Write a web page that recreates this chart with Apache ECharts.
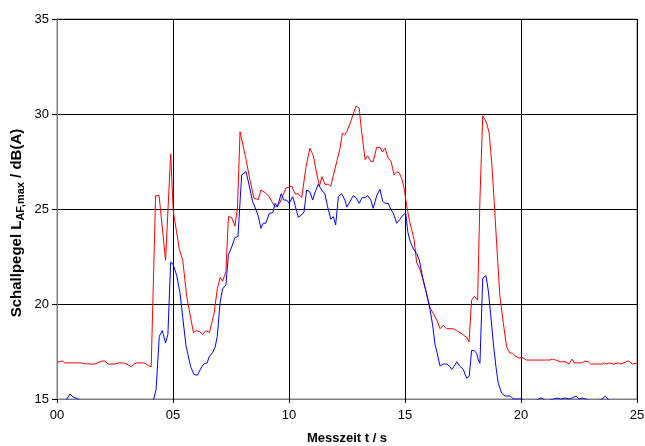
<!DOCTYPE html>
<html>
<head>
<meta charset="utf-8">
<script src="https://cdn.jsdelivr.net/npm/echarts@6/dist/echarts.min.js"></script>
<style>
	html, body { margin: 0; padding: 0; background: #fff; }
	#chart { width: 645px; height: 446px; }
</style>
</head>
<body>
<div id="chart"></div>
<script>
// Messzeit t / s und Pegel (rot)
var redTime = [0.0, 0.1, 0.23, 0.34, 0.6, 0.9, 1.06, 1.18, 1.3, 1.38, 1.5, 1.62, 1.75, 1.93, 2.05, 2.21, 2.5, 2.64, 2.9, 3.07, 3.19, 3.33, 3.43, 3.68, 3.8, 3.94, 4.06,
	4.25, 4.4, 4.68, 4.9, 5.01, 5.27, 5.42, 5.59, 5.88, 6.0, 6.14, 6.28, 6.42, 6.57, 6.77, 6.91, 7.03, 7.14, 7.28, 7.39, 7.53, 7.67, 7.78, 7.89,
	8.15, 8.32, 8.49, 8.68, 8.79, 8.97, 9.15, 9.3, 9.4, 9.6, 9.68, 9.87, 10.12, 10.26, 10.4, 10.55, 10.73, 10.9, 11.05, 11.19, 11.31, 11.42, 11.55, 11.7, 11.8,
	12.06, 12.2, 12.3, 12.4, 12.5, 12.63, 12.89, 13.03, 13.09, 13.18, 13.28, 13.39, 13.53, 13.63, 13.78, 13.92, 14.02, 14.14, 14.28, 14.4, 14.53, 14.64, 14.75, 14.86, 14.96,
	15.07, 15.19, 15.29, 15.39, 15.5, 15.65, 15.79, 15.94, 16.08, 16.22, 16.37, 16.51, 16.65, 16.8, 16.94, 17.08, 17.23, 17.37, 17.51, 17.66, 17.76, 17.87, 17.99,
	18.06, 18.13, 18.23, 18.35, 18.45, 18.52, 18.63, 18.74, 18.84, 18.95, 19.09, 19.24, 19.38, 19.5, 19.64, 19.78, 19.93, 20.03, 20.24, 20.6, 21.0, 21.24, 21.35,
	21.5, 21.68, 21.9, 22.08, 22.2, 22.3, 22.61, 22.76, 22.9, 23.0, 23.33, 23.4, 23.5, 23.6, 23.7, 23.8, 24.0, 24.2, 24.3, 24.63, 24.81, 25.0];
var redLevel = [16.95, 16.95, 17.0, 16.9, 16.9, 16.9, 16.9, 16.85, 16.85, 16.9, 16.84, 16.84, 16.9, 17.0, 17.0, 16.84, 16.84, 16.9, 16.9, 16.8, 16.7, 16.84, 16.9, 16.9, 16.88, 16.75, 16.7,
	25.7, 25.7, 22.3, 27.9, 24.9, 22.9, 22.3, 20.4, 18.5, 18.6, 18.55, 18.4, 18.6, 18.5, 19.5, 20.8, 21.4, 21.2, 21.7, 24.6, 24.55, 24.1, 25.1, 29.07,
	27.6, 26.5, 25.56, 25.5, 26.0, 25.86, 25.65, 25.3, 25.1, 25.3, 25.3, 26.1, 26.2, 25.8, 25.8, 25.6, 27.2, 28.2, 27.8, 26.9, 26.2, 26.7, 26.3, 26.3, 26.2,
	27.5, 28.2, 29.0, 28.9, 29.1, 29.5, 30.42, 30.3, 29.5, 28.6, 27.6, 27.8, 27.5, 27.5, 28.25, 28.25, 28.0, 28.2, 27.67, 27.5, 26.8, 26.96, 26.9, 26.6, 26.1,
	25.2, 24.4, 23.9, 23.4, 22.2, 21.8, 21.2, 20.5, 19.8, 19.5, 19.16, 18.7, 18.88, 18.7, 18.7, 18.7, 18.6, 18.5, 18.37, 18.25, 18.0, 20.2, 20.4,
	20.3, 20.2, 25.5, 29.9, 29.7, 29.5, 29.0, 27.4, 25.5, 23.2, 20.4, 18.98, 17.75, 17.44, 17.4, 17.23, 17.15, 17.2, 17.05, 17.05, 17.05, 17.05, 17.1,
	17.05, 16.96, 16.96, 16.84, 17.1, 16.9, 16.9, 17.0, 16.96, 16.84, 16.84, 16.9, 16.84, 16.9, 16.84, 16.9, 16.84, 16.9, 16.84, 17.0, 16.84, 16.9];

// Pegel (blau)
var blueTime = [0.0, 0.35, 0.42, 0.56, 0.7, 0.92, 1.05, 1.5, 2.0, 2.5, 3.0, 3.5, 4.0, 4.15, 4.2, 4.27, 4.41, 4.54, 4.68, 4.78, 4.9, 5.0, 5.16, 5.3, 5.42, 5.56,
	5.76, 5.9, 6.05, 6.24, 6.34, 6.47, 6.57, 6.71, 6.82, 6.91, 7.03, 7.14, 7.28, 7.39, 7.53, 7.67, 7.8, 7.96, 8.15, 8.29, 8.43, 8.58, 8.68, 8.79, 8.89, 9.0,
	9.15, 9.3, 9.4, 9.5, 9.66, 9.78, 9.9, 10.01, 10.16, 10.26, 10.4, 10.55, 10.65, 10.76, 10.9, 11.02, 11.13, 11.26, 11.41, 11.55, 11.65, 11.8, 11.91, 12.01,
	12.13, 12.27, 12.41, 12.49, 12.63, 12.77, 12.89, 13.03, 13.15, 13.28, 13.39, 13.52, 13.63, 13.78, 13.92, 14.04, 14.14, 14.28, 14.38, 14.5, 14.64, 14.78,
	14.93, 15.03, 15.12, 15.22, 15.36, 15.5, 15.62, 15.76, 15.9, 16.08, 16.19, 16.29, 16.39, 16.51, 16.65, 16.8, 16.94, 17.01, 17.11, 17.23, 17.37, 17.51,
	17.66, 17.77, 17.87, 17.99, 18.09, 18.16, 18.23, 18.35, 18.49, 18.59, 18.69, 18.81, 18.92, 19.02, 19.17, 19.31, 19.54, 19.67, 19.9, 20.0, 20.2, 20.6,
	20.75, 20.85, 20.95, 21.1, 21.4, 21.55, 21.7, 21.9, 22.1, 22.37, 22.5, 22.65, 22.8, 23.0, 23.3, 23.5, 23.62, 23.75, 23.9, 24.5, 25.0];
var blueLevel = [14.6, 14.8, 15.0, 15.26, 15.1, 15.0, 14.8, 14.6, 14.6, 14.6, 14.6, 14.6, 14.6, 14.9, 15.0, 15.5, 18.3, 18.6, 17.95, 18.4, 22.2, 22.1, 21.5, 20.6, 19.3, 17.8,
	16.7, 16.3, 16.25, 16.7, 16.85, 16.9, 17.25, 17.45, 17.75, 18.3, 20.1, 20.8, 21.0, 22.6, 23.0, 23.5, 23.55, 26.8, 26.96, 26.2, 25.4, 24.95, 24.6, 23.98, 24.25, 24.25,
	24.77, 24.8, 25.3, 25.1, 25.8, 25.47, 25.47, 25.3, 25.65, 25.2, 24.56, 24.7, 24.86, 26.0, 25.9, 25.47, 25.9, 26.3, 26.0, 25.8, 25.2, 24.46, 24.6, 24.16,
	25.65, 25.8, 25.47, 25.1, 25.4, 25.7, 25.6, 25.3, 25.6, 25.6, 25.7, 25.5, 25.03, 25.7, 26.04, 25.4, 25.3, 25.3, 25.0, 24.77, 24.25, 24.46,
	24.7, 24.8, 23.8, 23.3, 22.9, 22.67, 22.3, 21.4, 20.7, 19.7, 18.9, 17.9, 17.4, 16.74, 16.84, 16.84, 16.7, 16.56, 16.7, 16.96, 16.72, 16.56,
	16.09, 16.2, 17.55, 17.55, 17.4, 17.05, 16.88, 21.35, 21.5, 20.7, 19.5, 17.9, 16.7, 15.83, 15.3, 15.16, 15.16, 15.0, 15.0, 15.0, 14.9, 14.9,
	15.0, 15.05, 15.0, 14.9, 15.0, 15.05, 15.0, 15.05, 15.0, 15.15, 15.0, 15.05, 15.0, 14.9, 14.9, 15.0, 15.15, 15.0, 14.8, 14.6, 14.6];

function pairs(t, v) {
	var out = [];
	for (var i = 0; i < t.length; i++) {
		out.push([t[i], v[i]]);
	}
	return out;
}

(function () {
	var myChart = echarts.init(document.getElementById('chart'));
	var font = 'Liberation Sans, Arial, sans-serif';
	var option = {
		animation: false,
		backgroundColor: '#fff',
		grid: {
			left: 57,
			right: 8,
			top: 19,
			bottom: 47,
			outerBoundsMode: 'none',
			containLabel: false,
			show: true,
			borderColor: '#808080',
			borderWidth: 1
		},
		xAxis: {
			type: 'value',
			min: 0,
			max: 25,
			interval: 5,
			name: 'Messzeit t / s',
			nameLocation: 'middle',
			nameGap: 33,
			nameTextStyle: {
				color: '#000',
				fontFamily: font,
				fontSize: 13,
				fontWeight: 'bold'
			},
			axisLine: {
				lineStyle: { color: '#808080' }
			},
			axisTick: {
				show: true,
				length: 4,
				lineStyle: { color: '#000' }
			},
			axisLabel: {
				color: '#000',
				fontFamily: font,
				fontSize: 13,
				margin: 10,
				formatter: function (v) {
					return (v < 10 ? '0' : '') + v;
				}
			},
			splitLine: {
				lineStyle: { color: '#000', width: 1 }
			}
		},
		yAxis: {
			type: 'value',
			min: 15,
			max: 35,
			interval: 5,
			name: '{a|Schallpegel L}{s|AF,max}{a| / dB(A)}',
			nameLocation: 'middle',
			nameGap: 31,
			nameMoveOverlap: false,
			nameTextStyle: {
				padding: [0, 28, 0, 0],
				rich: {
					a: {
						color: '#000',
						fontFamily: font,
						fontSize: 15,
						fontWeight: 'bold'
					},
					s: {
						color: '#000',
						fontFamily: font,
						fontSize: 11,
						fontWeight: 'bold',
						padding: [8, 0, 0, 0]
					}
				}
			},
			axisLine: {
				show: true,
				lineStyle: { color: '#808080' }
			},
			axisTick: {
				show: true,
				length: 5,
				lineStyle: { color: '#000' }
			},
			axisLabel: {
				color: '#000',
				fontFamily: font,
				fontSize: 13,
				margin: 8
			},
			splitLine: {
				lineStyle: { color: '#000', width: 1 }
			}
		},
		series: [
			{
				name: 'rot',
				type: 'line',
				data: pairs(redTime, redLevel),
				showSymbol: false,
				clip: true,
				lineStyle: { color: '#ff0000', width: 1 }
			},
			{
				name: 'blau',
				type: 'line',
				data: pairs(blueTime, blueLevel),
				showSymbol: false,
				clip: true,
				lineStyle: { color: '#0000ff', width: 1 }
			}
		]
	};
	myChart.setOption(option);
})();
</script>
</body>
</html>
